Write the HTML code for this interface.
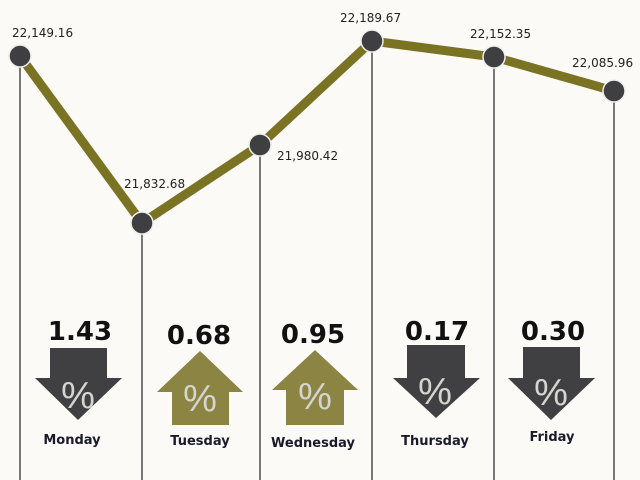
<!DOCTYPE html>
<html><head><meta charset="utf-8"><style>
html,body{margin:0;padding:0;background:#fbfaf7;}
svg{display:block;font-family:"DejaVu Sans","Liberation Sans",sans-serif;}
</style></head><body>
<svg width="640" height="480" viewBox="0 0 640 480" xmlns="http://www.w3.org/2000/svg">
<rect width="640" height="480" fill="#fbfaf7"/>
<g stroke="#333" stroke-width="1.3">
<line x1="20" y1="56" x2="20" y2="480"/>
<line x1="142" y1="223" x2="142" y2="480"/>
<line x1="260" y1="145" x2="260" y2="480"/>
<line x1="372" y1="41" x2="372" y2="480"/>
<line x1="494" y1="57" x2="494" y2="480"/>
<line x1="614" y1="91" x2="614" y2="480"/>
</g>
<polyline points="20,56 142,223 260,145 372,41 494,57 614,91" fill="none" stroke="#7a7324" stroke-width="9" stroke-linejoin="round"/>
<g fill="#3f3f42" stroke="#eee" stroke-width="1.5">
<circle cx="20" cy="56" r="11"/><circle cx="142" cy="223" r="11"/><circle cx="260" cy="145" r="11"/>
<circle cx="372" cy="41" r="11"/><circle cx="494" cy="57" r="11"/><circle cx="614" cy="91" r="11"/>
</g>
<g font-size="12" fill="#222">
<text x="12" y="37">22,149.16</text>
<text x="124" y="188">21,832.68</text>
<text x="277" y="160">21,980.42</text>
<text x="340" y="22">22,189.67</text>
<text x="470" y="38">22,152.35</text>
<text x="572" y="67">22,085.96</text>
</g>
<g fill="#404043">
<polygon points="50,348 107,348 107,378 122,378 78,420 35,378 50,378"/>
<polygon points="407,345 465,345 465,378 480,378 436,418 393,378 407,378"/>
<polygon points="523,347 580,347 580,378 595,378 551,420 508,378 523,378"/>
</g>
<g fill="#8b8442">
<polygon points="200,351 243,392 229,392 229,425 172,425 172,392 157,392"/>
<polygon points="315,350 358,390 344,390 344,425 286,425 286,390 272,390"/>
</g>
<g font-size="38" fill="#d4d4d0" text-anchor="middle" font-family="Liberation Sans,sans-serif">
<text x="78" y="408">%</text><text x="200" y="411">%</text><text x="315" y="409">%</text>
<text x="435" y="404">%</text><text x="551" y="405">%</text>
</g>
<g font-size="26" font-weight="bold" fill="#111" text-anchor="middle">
<text x="80" y="340">1.43</text><text x="199" y="344">0.68</text><text x="313" y="343">0.95</text>
<text x="437" y="340">0.17</text><text x="553" y="340">0.30</text>
</g>
<g font-size="13" font-weight="bold" fill="#1a1a2a" text-anchor="middle">
<text x="72" y="444">Monday</text><text x="200" y="445">Tuesday</text><text x="313" y="447">Wednesday</text>
<text x="435" y="445">Thursday</text><text x="552" y="441">Friday</text>
</g>
</svg>
</body></html>
